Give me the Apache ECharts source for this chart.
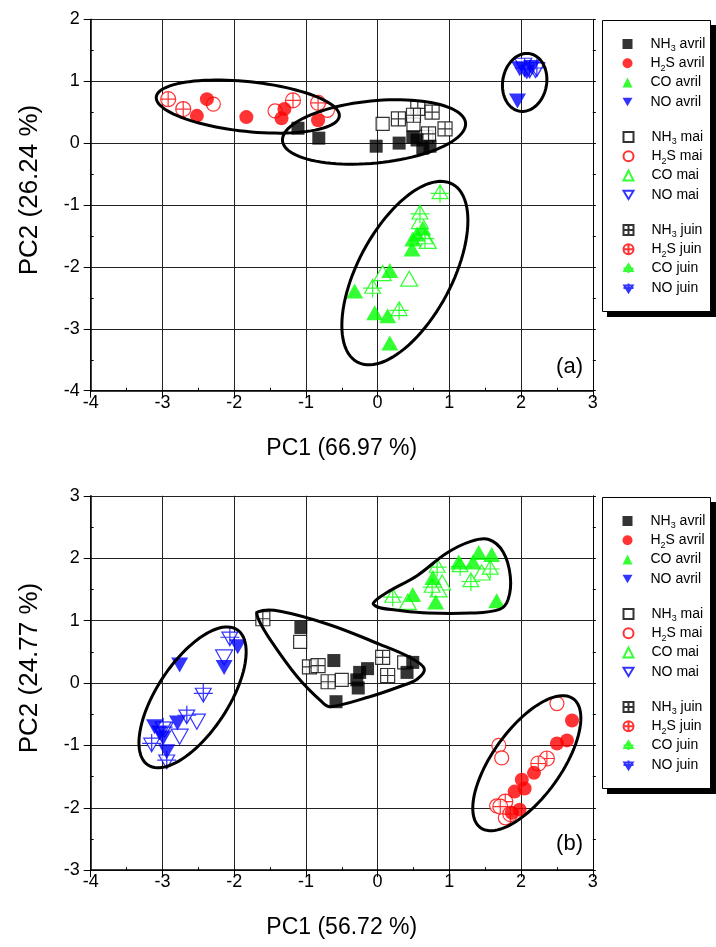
<!DOCTYPE html>
<html>
<head>
<meta charset="utf-8">
<script src="https://cdn.jsdelivr.net/npm/echarts@6/dist/echarts.min.js"></script>
<style>
html,body{margin:0;padding:0;background:#fff;}
#c{width:716px;height:947px;}
</style>
</head>
<body>
<div id="c"></div>
<script>
// ---------- axis ranges / ticks ----------
const xRange = [-4, 3];
const yRangeA = [-4, 2];
const yRangeB = [-3, 3];
const xNameA = 'PC1 (66.97 %)';
const yNameA = 'PC2 (26.24 %)';
const xNameB = 'PC1 (56.72 %)';
const yNameB = 'PC2 (24.77 %)';

// ---------- legend names ----------
const groupAvril = ['NH3 avril', 'H2S avril', 'CO avril', 'NO avril'];
const groupMai = ['NH3 mai', 'H2S mai', 'CO mai', 'NO mai'];
const groupJuin = ['NH3 juin', 'H2S juin', 'CO juin', 'NO juin'];

// ---------- panel (a) data ----------
const A_NH3_avril = [[-1.11,0.24],[-0.82,0.08],[-0.02,-0.05],[0.30,0.00],[0.49,0.10],[0.63,-0.08],[0.73,-0.05],[0.55,0.05]];
const A_NH3_mai = [[0.07,0.31],[0.50,0.30],[0.68,0.10]];
const A_NH3_juin = [[0.29,0.39],[0.56,0.56],[0.76,0.50],[0.50,0.45],[0.94,0.23],[0.71,0.15]];
const A_H2S_avril = [[-2.38,0.71],[-2.52,0.44],[-1.83,0.42],[-1.30,0.55],[-1.34,0.40],[-0.83,0.37]];
const A_H2S_mai = [[-2.29,0.63],[-1.43,0.52],[-0.70,0.53]];
const A_H2S_juin = [[-2.92,0.71],[-2.71,0.55],[-1.18,0.69],[-0.83,0.65]];
const A_CO_avril = [[0.63,-1.37],[0.49,-1.55],[0.48,-1.71],[0.55,-1.47],[0.17,-2.06],[-0.32,-2.39],[-0.04,-2.74],[0.14,-2.79],[0.17,-3.23]];
const A_CO_mai = [[0.07,-2.10],[0.44,-2.19],[0.59,-1.26],[0.70,-1.58]];
const A_CO_juin = [[0.87,-0.82],[0.59,-1.15],[0.66,-1.55],[-0.07,-2.35],[0.30,-2.71]];
const A_NO_avril = [[1.95,0.68],[1.98,1.20],[2.08,1.15],[2.15,1.22]];
const A_NO_mai = [[2.03,1.25],[2.20,1.18]];
const A_NO_juin = [[2.05,1.22],[2.12,1.20],[2.22,1.22]];

// ---------- panel (b) data ----------
const B_NH3_avril = [[-1.07,0.89],[-0.61,0.36],[-0.25,0.17],[-0.14,0.23],[-0.27,-0.08],[-0.58,-0.30],[0.49,0.33],[0.41,0.17],[-0.29,0.05]];
const B_NH3_mai = [[-1.08,0.66],[-0.50,0.05],[0.37,0.33]];
const B_NH3_juin = [[-1.60,1.03],[-0.95,0.26],[-0.83,0.28],[-0.69,0.02],[0.07,0.41],[0.14,0.12]];
const B_H2S_avril = [[2.71,-0.60],[2.64,-0.92],[2.50,-0.97],[2.18,-1.44],[2.01,-1.55],[2.05,-1.69],[1.91,-1.74],[1.98,-2.03],[1.87,-2.08]];
const B_H2S_mai = [[2.50,-0.33],[1.69,-1.00],[1.73,-1.20],[1.66,-1.97],[1.78,-2.16]];
const B_H2S_juin = [[2.36,-1.21],[2.24,-1.29],[1.78,-1.90],[1.71,-1.98],[1.85,-2.10]];
const B_CO_avril = [[1.41,2.09],[1.59,2.06],[1.13,1.94],[1.33,1.94],[0.77,1.69],[0.49,1.42],[0.81,1.30],[1.66,1.32]];
const B_CO_mai = [[0.90,1.61],[0.42,1.30],[1.45,1.77],[0.85,1.50]];
const B_CO_juin = [[0.21,1.37],[0.83,1.85],[0.76,1.53],[1.15,1.86],[1.30,1.62],[1.57,1.82]];
const B_NO_avril = [[-2.76,0.29],[-1.95,0.58],[-2.14,0.25],[-2.79,-0.64],[-3.11,-0.70],[-2.99,-0.88],[-2.94,-1.10],[-3.04,-0.80]];
const B_NO_mai = [[-2.14,0.41],[-2.52,-0.62],[-2.76,-0.86],[-2.97,-0.75]];
const B_NO_juin = [[-2.06,0.74],[-2.43,-0.16],[-2.66,-0.51],[-3.15,-0.96],[-2.94,-1.23],[-2.99,-0.70]];

// ---------- group outlines (data units) ----------
const ellipsesA = [
  {c:[-1.81,0.59], a:[1.276,-0.155], b:[-0.036,-0.40]},
  {c:[-0.05,0.18], a:[1.276,0.145], b:[0.042,-0.50]},
  {c:[0.38,-2.10], a:[0.661,1.439], b:[0.579,-0.356]},
  {c:[2.05,0.98], a:[0.042,0.468], b:[0.307,-0.016]}
];
const ellipsesB = [
  {c:[-2.58,-0.23], a:[0.621,1.085], b:[0.416,-0.312]},
  {c:[2.08,-1.285], a:[0.646,1.034], b:[0.388,-0.320]}
];
const outlineB_NH3 = [[-1.67,1.14],[-1.36,1.15],[-0.66,0.93],[0.03,0.62],[0.45,0.41],[0.65,0.23],[0.55,0.06],[0.35,-0.04],[-0.11,-0.22],[-0.66,-0.38],[-0.78,-0.30],[-1.12,0.10],[-1.50,0.70],[-1.66,1.02]];
const outlineB_CO = [[-0.06,1.28],[0.13,1.45],[0.55,1.72],[0.96,2.08],[1.30,2.27],[1.55,2.30],[1.75,2.10],[1.85,1.71],[1.82,1.34],[1.70,1.18],[1.30,1.12],[0.70,1.12],[0.25,1.17],[0.02,1.21]];

// ---------- styles ----------
const FONT = '"Liberation Sans", Arial, Helvetica, sans-serif';
const colors = {NH3:'#000000', H2S:'#ff0000', CO:'#00ff00', NO:'#0000ff'};
const shapes = {
  NH3: {sym:'rect', size:[13,13]},
  H2S: {sym:'circle', size:[14,14]},
  CO: {sym:'triangle', size:[17,15]},
  NO: {sym:'path://M0 0L20 0L10 17Z', size:[17,15]}
};
const crossShapes = {
  NH3: {sym:'path://M0 0H20V20H0Z M10 0V20 M0 10H20', size:[14,14]},
  H2S: {sym:'path://M0 10A10 10 0 1 1 20 10A10 10 0 1 1 0 10Z M10 0V20 M0 10H20', size:[15,15]},
  CO: {sym:'path://M10 0L20 16L0 16Z M10 0V21 M-2 10H22', size:[19,18]},
  NO: {sym:'path://M0 5L20 5L10 21Z M10 0V21 M-2 11H22', size:[19,18]}
};

const dataA = {
  'NH3 avril':A_NH3_avril,'NH3 mai':A_NH3_mai,'NH3 juin':A_NH3_juin,
  'H2S avril':A_H2S_avril,'H2S mai':A_H2S_mai,'H2S juin':A_H2S_juin,
  'CO avril':A_CO_avril,'CO mai':A_CO_mai,'CO juin':A_CO_juin,
  'NO avril':A_NO_avril,'NO mai':A_NO_mai,'NO juin':A_NO_juin
};
const dataB = {
  'NH3 avril':B_NH3_avril,'NH3 mai':B_NH3_mai,'NH3 juin':B_NH3_juin,
  'H2S avril':B_H2S_avril,'H2S mai':B_H2S_mai,'H2S juin':B_H2S_juin,
  'CO avril':B_CO_avril,'CO mai':B_CO_mai,'CO juin':B_CO_juin,
  'NO avril':B_NO_avril,'NO mai':B_NO_mai,'NO juin':B_NO_juin
};

function makeSeries(name, data, gi) {
  const [gas, month] = name.split(' ');
  const c = colors[gas];
  let s, itemStyle;
  if (month === 'avril') { s = shapes[gas]; itemStyle = {color:c, borderWidth:0}; }
  else if (month === 'mai') { s = shapes[gas]; itemStyle = {color:'#ffffff', borderColor:c, borderWidth:1.2}; }
  else { s = crossShapes[gas]; itemStyle = {color:'#ffffff', borderColor:c, borderWidth:1.2}; }
  return {
    type:'scatter', name:name, xAxisIndex:gi, yAxisIndex:gi*2,
    symbol:s.sym, symbolSize:s.size, itemStyle:itemStyle,
    data:data, silent:true, z:3
  };
}

function outlineSeries(items, gi) {
  return {
    type:'custom', xAxisIndex:gi, yAxisIndex:gi*2, silent:true, z:5,
    data: items.map(it => it.c ? it.c : it.pts[0]),
    renderItem: function(params, api) {
      const it = items[params.dataIndex];
      let pts = [];
      let smooth = 0;
      if (it.c) {
        const N = 96;
        for (let k = 0; k < N; k++) {
          const t = 2*Math.PI*k/N;
          pts.push(api.coord([it.c[0]+it.a[0]*Math.cos(t)+it.b[0]*Math.sin(t),
                              it.c[1]+it.a[1]*Math.cos(t)+it.b[1]*Math.sin(t)]));
        }
      } else {
        pts = it.pts.map(p => api.coord(p));
        smooth = 0.35;
      }
      return {type:'polygon', shape:{points:pts, smooth:smooth}, style:{fill:'none', stroke:'#000', lineWidth:3}};
    }
  };
}

const order = [...groupMai, ...groupJuin, ...groupAvril];
const series = [];
order.forEach(n => series.push(makeSeries(n, dataA[n], 0)));
order.forEach(n => series.push(makeSeries(n, dataB[n], 1)));
series.push(outlineSeries(ellipsesA, 0));
series.push(outlineSeries([...ellipsesB, {pts:outlineB_NH3}, {pts:outlineB_CO}], 1));

const gridA = {left:90.7, top:19.3, width:502.1, height:371.4};
const gridB = {left:90.7, top:495.8, width:502.1, height:374.4};

function xAxisCfg(gi, name) {
  return {
    type:'value', gridIndex:gi, min:xRange[0], max:xRange[1], interval:1,
    name:name, nameLocation:'middle', nameGap:46,
    nameTextStyle:{fontSize:23, color:'#000', fontFamily:FONT},
    axisLine:{show:true, onZero:false, lineStyle:{color:'#000', width:1.5}},
    axisTick:{show:true, length:7, lineStyle:{color:'#000', width:1}},
    minorTick:{show:true, splitNumber:2, length:-3, lineStyle:{color:'#000', width:1}},
    axisLabel:{fontSize:18, color:'#000', margin:3, fontFamily:FONT},
    splitLine:{show:true, lineStyle:{color:'#222', width:1}}
  };
}
function yAxisCfg(gi, range, name) {
  return {
    type:'value', gridIndex:gi, position:'left', min:range[0], max:range[1], interval:1,
    name:name, nameLocation:'middle', nameGap:48,
    nameTextStyle:{fontSize:26, color:'#000', fontFamily:FONT, padding:[0,0,0,30]},
    axisLine:{show:true, onZero:false, lineStyle:{color:'#000', width:1.5}},
    axisTick:{show:true, length:7, lineStyle:{color:'#000', width:1}},
    minorTick:{show:true, splitNumber:2, length:-3, lineStyle:{color:'#000', width:1}},
    axisLabel:{fontSize:18, color:'#000', margin:11, fontFamily:FONT},
    splitLine:{show:true, lineStyle:{color:'#222', width:1}}
  };
}
function yRightCfg(gi, range) {
  return {
    type:'value', gridIndex:gi, position:'right', min:range[0], max:range[1], interval:1,
    axisLine:{show:true, onZero:false, lineStyle:{color:'#000', width:1}},
    axisTick:{show:true, length:3, lineStyle:{color:'#000', width:1}},
    minorTick:{show:true, splitNumber:2, length:3, lineStyle:{color:'#000', width:1}},
    axisLabel:{show:false}, splitLine:{show:false}
  };
}

function legendFmt(name) {
  const m = name.match(/^(NH|H)(\d)(.*)$/);
  if (m) return '{g| }{a|' + m[1] + '}{s|' + m[2] + '}{a|' + m[3] + '}';
  return '{g| }{a|' + name + '}{s| }';
}
function legendCfg(names, top) {
  return {
    orient:'vertical', left:622.5, top:top, data:names, selectedMode:false,
    itemWidth:10, itemHeight:10, itemGap:0.3, padding:0, z:10,
    formatter:legendFmt,
    textStyle:{
      color:'#000', fontFamily:FONT, fontSize:14,
      rich:{
        g:{width:13},
        a:{fontSize:14, lineHeight:19, fontFamily:FONT, color:'#000'},
        s:{fontSize:9, lineHeight:9, padding:[10,0,0,0], verticalAlign:'top', fontFamily:FONT, color:'#000'}
      }
    }
  };
}

const legends = [];
[0, 477].forEach(off => {
  legends.push(legendCfg(groupAvril, 34.5 + off));
  legends.push(legendCfg(groupMai, 127.5 + off));
  legends.push(legendCfg(groupJuin, 220.5 + off));
});

function legendBox(y) {
  return [
    {type:'rect', shape:{x:607, y:y+5, width:109, height:292}, style:{fill:'#000'}, z:1},
    {type:'rect', shape:{x:602.5, y:y+0.5, width:108, height:291}, style:{fill:'#fff', stroke:'#000', lineWidth:1}, z:2}
  ];
}

const chart = echarts.init(document.getElementById('c'), null, {renderer:'canvas'});
chart.setOption({
  animation:false,
  backgroundColor:'#ffffff',
  grid:[gridA, gridB],
  xAxis:[xAxisCfg(0, xNameA), xAxisCfg(1, xNameB)],
  yAxis:[yAxisCfg(0, yRangeA, yNameA), yRightCfg(0, yRangeA), yAxisCfg(1, yRangeB, yNameB), yRightCfg(1, yRangeB)],
  legend:legends,
  graphic:[
    ...legendBox(20), ...legendBox(497),
    {type:'text', right:133, top:356, style:{text:'(a)', fontSize:22, fontFamily:FONT, fill:'#000'}, z:3},
    {type:'text', right:133, top:833, style:{text:'(b)', fontSize:22, fontFamily:FONT, fill:'#000'}, z:3}
  ],
  series:series
});
</script>
</body>
</html>
